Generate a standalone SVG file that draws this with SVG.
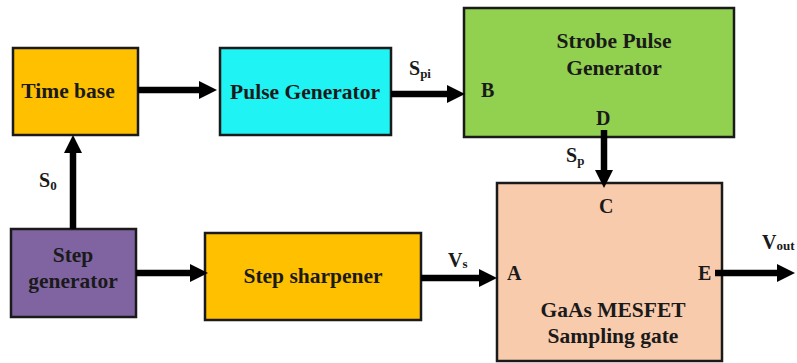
<svg xmlns="http://www.w3.org/2000/svg" width="797" height="363" viewBox="0 0 797 363">
<style>
.box{stroke:#1a1a1a;stroke-width:2.5}
.t{font-weight:bold;font-size:21.5px;fill:#1a1a1a;text-anchor:middle}
.l{font-weight:bold;font-size:20px;fill:#1a1a1a}
.sub{font-size:13px}
.c{fill:none;stroke:#000;stroke-width:6.5}
</style>
<defs>
<marker id="ah" markerUnits="userSpaceOnUse" markerWidth="20" markerHeight="20" refX="0" refY="9" orient="auto">
<path d="M0,0 L18,9 L0,18 Z" fill="#000"/>
</marker>
</defs>
<rect width="797" height="363" fill="#fff"/>
<g font-family="'Liberation Serif', 'Times New Roman', serif">
<g id="time-base">
<rect class="box" x="13" y="48" width="125" height="87" fill="#FFC000"/>
<text class="t" x="68" y="98">Time base</text>
</g>
<g id="pulse-generator">
<rect class="box" x="220" y="48" width="171" height="87" fill="#1FF3F3"/>
<text class="t" x="305" y="99">Pulse Generator</text>
</g>
<g id="strobe-pulse-generator">
<rect class="box" x="464" y="8" width="270" height="129" fill="#92D050"/>
<text class="t" x="614" y="48">Strobe Pulse</text>
<text class="t" x="614" y="75">Generator</text>
<text class="l" x="481" y="97">B</text>
<text class="l" x="596" y="125">D</text>
</g>
<g id="step-generator">
<rect class="box" x="11" y="229" width="125" height="88" fill="#8064A2"/>
<text class="t" x="73" y="262">Step</text>
<text class="t" x="73" y="288">generator</text>
</g>
<g id="step-sharpener">
<rect class="box" x="205" y="233" width="216" height="87" fill="#FFC000"/>
<text class="t" x="313" y="283">Step sharpener</text>
</g>
<g id="sampling-gate">
<rect class="box" x="497" y="183" width="225" height="178" fill="#F8CBAD"/>
<text class="t" x="613" y="317">GaAs MESFET</text>
<text class="t" x="613" y="343">Sampling gate</text>
<text class="l" x="599" y="213">C</text>
<text class="l" x="507" y="280">A</text>
<text class="l" x="698" y="280">E</text>
</g>
<g id="connectors">
<path class="c" d="M138,90 H199" marker-end="url(#ah)"/>
<path class="c" d="M391,94 H447" marker-end="url(#ah)"/>
<path class="c" d="M604,130 V170" marker-end="url(#ah)"/>
<path class="c" d="M73,229 V153" marker-end="url(#ah)"/>
<path class="c" d="M136,273 H190" marker-end="url(#ah)"/>
<path class="c" d="M421,278 H479" marker-end="url(#ah)"/>
<path class="c" d="M715,273 H777" marker-end="url(#ah)"/>
</g>
<g id="labels">
<text class="l" x="39" y="187">S<tspan class="sub" dy="3">0</tspan></text>
<text class="l" x="409" y="75">S<tspan class="sub" dy="3">pi</tspan></text>
<text class="l" x="566" y="162">S<tspan class="sub" dy="3">p</tspan></text>
<text class="l" x="448" y="267">V<tspan class="sub" dy="1">s</tspan></text>
<text class="l" x="762" y="249">V<tspan class="sub" dy="1">out</tspan></text>
</g>
</g>
</svg>
